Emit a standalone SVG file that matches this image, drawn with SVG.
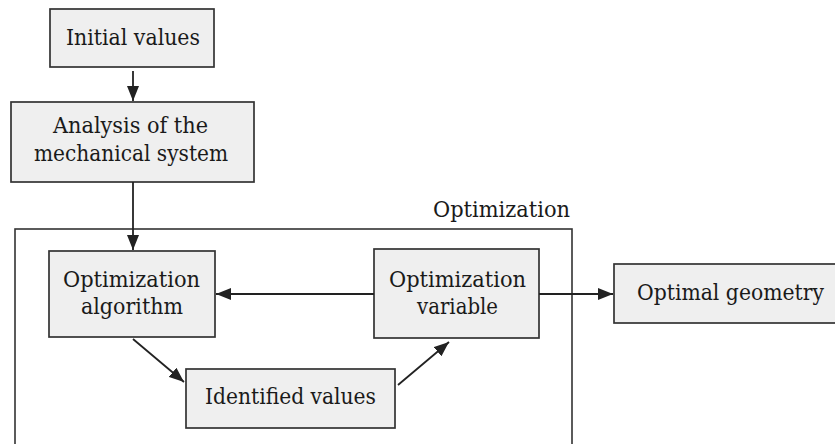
<svg xmlns="http://www.w3.org/2000/svg" width="835" height="444" viewBox="0 0 835 444">
<defs>
<marker id="ah" viewBox="0 0 15 12" refX="15" refY="6" markerWidth="15" markerHeight="12" markerUnits="userSpaceOnUse" orient="auto">
<path d="M0,0 L15,6 L0,12 Z" fill="#222"/>
</marker>
<style>
.box{fill:#efefef;stroke:#333;stroke-width:1.7}
.frame{fill:none;stroke:#333;stroke-width:1.6}
text{font-family:"DejaVu Serif",serif;font-size:22px;fill:#1a1a1a;text-anchor:middle}
.con{stroke:#222;stroke-width:1.8;fill:none;marker-end:url(#ah)}
</style>
</defs>
<rect width="835" height="444" fill="#fff"/>
<g id="optimization-frame">
<rect class="frame" x="15" y="229" width="557" height="230"/>
<text x="501.5" y="217" textLength="137" lengthAdjust="spacingAndGlyphs">Optimization</text>
</g>
<g id="initial-values">
<rect class="box" x="50" y="9" width="164" height="58"/>
<text x="133" y="45" textLength="134" lengthAdjust="spacingAndGlyphs">Initial values</text>
</g>
<g id="analysis">
<rect class="box" x="11" y="102" width="243" height="80"/>
<text x="130.5" y="133" textLength="155" lengthAdjust="spacingAndGlyphs">Analysis of the</text>
<text x="131" y="161" textLength="194" lengthAdjust="spacingAndGlyphs">mechanical system</text>
</g>
<g id="optimization-algorithm">
<rect class="box" x="49" y="251" width="166" height="86"/>
<text x="131.5" y="287" textLength="137" lengthAdjust="spacingAndGlyphs">Optimization</text>
<text x="132" y="314" textLength="102" lengthAdjust="spacingAndGlyphs">algorithm</text>
</g>
<g id="optimization-variable">
<rect class="box" x="374" y="249" width="165" height="89"/>
<text x="457.5" y="287" textLength="137" lengthAdjust="spacingAndGlyphs">Optimization</text>
<text x="457.5" y="314" textLength="81" lengthAdjust="spacingAndGlyphs">variable</text>
</g>
<g id="identified-values">
<rect class="box" x="186" y="369" width="209" height="59"/>
<text x="290.5" y="404" textLength="171" lengthAdjust="spacingAndGlyphs">Identified values</text>
</g>
<g id="optimal-geometry">
<rect class="box" x="614" y="264" width="230" height="59"/>
<text x="730.5" y="300" textLength="187" lengthAdjust="spacingAndGlyphs">Optimal geometry</text>
</g>
<g id="connectors">
<line class="con" x1="133" y1="71" x2="133" y2="101"/>
<line class="con" x1="133" y1="182" x2="133" y2="250"/>
<line class="con" x1="374" y1="294" x2="216" y2="294"/>
<line class="con" x1="539" y1="294" x2="613" y2="294"/>
<line class="con" x1="133" y1="339" x2="184" y2="382"/>
<line class="con" x1="398" y1="385" x2="449" y2="342"/>
</g>
</svg>
